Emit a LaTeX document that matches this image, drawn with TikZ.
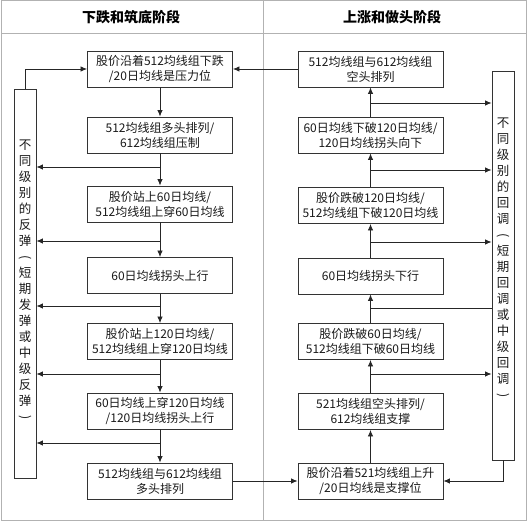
\documentclass[tikz,border=0pt]{standalone}
\usepackage{fontspec}
\setmainfont{Noto Sans CJK SC}
\usetikzlibrary{arrows.meta}
\newcommand{\vlp}{\rotatebox[origin=c]{-90}{(}}
\newcommand{\vrp}{\rotatebox[origin=c]{-90}{)}}
\begin{document}
\begin{tikzpicture}[x=1pt,y=-1pt,
  frame/.style={draw=black!30, line width=1pt},
  box/.style={draw=black!80, line width=0.9pt, minimum width=145pt, minimum height=36pt, align=center, inner sep=1pt, font=\fontsize{12}{15}\selectfont, text=black!90},
  side/.style={draw=black!80, line width=0.9pt, minimum width=22pt, minimum height=389pt, inner sep=0pt},
  sidetext/.style={align=center, inner sep=0pt, font=\fontsize{12.5}{16}\selectfont, text=black!90},
  head/.style={font=\fontsize{14}{16}\selectfont\bfseries},
  conn/.style={line width=0.8pt, draw=black!85},
  arr/.style={conn, -{Latex[length=6.5pt,width=5.5pt]}},
]
\useasboundingbox (0,0) rectangle (527,521);
% frame
\draw[frame] (1,1) rectangle (526,520);
\draw[frame] (1,34) -- (526,34);
\draw[frame] (263,1) -- (263,520);
% headers
\node[head] (hl) at (131,17) {下跌和筑底阶段};
\node[head] (hr) at (392,17) {上涨和做头阶段};
% left column
\node[box] (l1) at (160,69) {股价沿着512均线组下跌\\/20日均线是压力位};
\node[box] (l2) at (160,135) {512均线组多头排列/\\612均线组压制};
\node[box] (l3) at (160,204) {股价站上60日均线/\\512均线组上穿60日均线};
\node[box] (l4) at (160,275.5) {60日均线拐头上行};
\node[box] (l5) at (160,341.5) {股价站上120日均线/\\512均线组上穿120日均线};
\node[box] (l6) at (160,411) {60日均线上穿120日均线\\/120日均线拐头上行};
\node[box] (l7) at (160,481) {512均线组与612均线组\\多头排列};
% right column
\node[box] (r1) at (370.5,69) {512均线组与612均线组\\空头排列};
\node[box] (r2) at (370.5,135) {60日均线下破120日均线/\\120日均线拐头向下};
\node[box] (r3) at (370.5,205.5) {股价跌破120日均线/\\512均线组下破120日均线};
\node[box] (r4) at (370.5,276) {60日均线拐头下行};
\node[box] (r5) at (370.5,341.5) {股价跌破60日均线/\\512均线组下破60日均线};
\node[box] (r6) at (370.5,411.5) {521均线组空头排列/\\612均线组支撑};
\node[box] (r7) at (370.5,481) {股价沿着521均线组上升\\/20日均线是支撑位};
% side boxes
\node[side] (ls) at (25,283.5) {};
\node[sidetext] (lst) at (25,281) {不\\同\\级\\别\\的\\反\\弹\\\vlp\\短\\期\\发\\弹\\或\\中\\级\\反\\弹\\\vrp};
\node[side] (rs) at (503,265.5) {};
\node[sidetext] (rst) at (503,258.5) {不\\同\\级\\别\\的\\回\\调\\\vlp\\短\\期\\回\\调\\或\\中\\级\\回\\调\\\vrp};
% left vertical arrows
\draw[arr] (l1) -- (l2);
\draw[arr] (l2) -- (l3);
\draw[arr] (l3) -- (l4);
\draw[arr] (l4) -- (l5);
\draw[arr] (l5) -- (l6);
\draw[arr] (l6) -- (l7);
% right vertical arrows
\draw[arr] (r7) -- (r6);
\draw[arr] (r6) -- (r5);
\draw[arr] (r5) -- (r4);
\draw[arr] (r4) -- (r3);
\draw[arr] (r3) -- (r2);
\draw[arr] (r2) -- (r1);
% left branches
\coordinate (bl1) at (160,167);
\coordinate (bl2) at (160,241);
\coordinate (bl3) at (160,306);
\coordinate (bl4) at (160,374);
\coordinate (bl5) at (160,443);
\foreach \c in {bl1,bl2,bl3,bl4,bl5} \draw[arr] (\c) -- (\c -| ls.east);
% right branches
\coordinate (br1) at (370.5,103);
\coordinate (br2) at (370.5,170);
\coordinate (br3) at (370.5,242);
\coordinate (br4) at (370.5,308);
\coordinate (br5) at (370.5,374);
\foreach \c in {br1,br2,br3,br5} \draw[arr] (\c) -- (\c -| rs.west);
\draw[conn] (br4) -- (br4 -| rs.west);
% cross connections
\draw[arr] (r1) -- (l1);
\draw[arr] (l7) -- (r7);
\draw[arr] (ls.north) |- (l1.west);
\draw[arr] (rs.south) |- (r7.east);
\end{tikzpicture}
\end{document}
